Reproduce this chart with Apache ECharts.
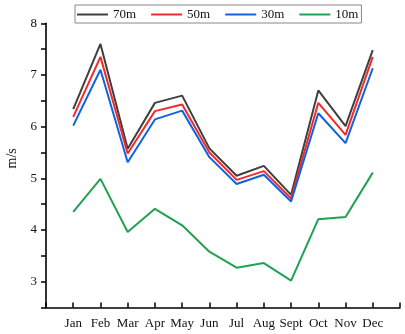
<!DOCTYPE html>
<html>
<head>
<meta charset="utf-8">
<script src="https://cdn.jsdelivr.net/npm/echarts@6/dist/echarts.min.js"></script>
<style>html,body{margin:0;padding:0;background:#fff}#c{width:405px;height:334px}</style>
</head>
<body>
<div id="c"></div>
<script>
const months = ['Jan','Feb','Mar','Apr','May','Jun','Jul','Aug','Sept','Oct','Nov','Dec'];
const seriesNames = ['70m','50m','30m','10m'];
const h70 = [6.34,7.60,5.57,6.46,6.60,5.58,5.05,5.24,4.68,6.70,6.01,7.48];
const h50 = [6.19,7.35,5.48,6.30,6.43,5.50,4.97,5.14,4.61,6.46,5.84,7.35];
const h30 = [6.02,7.10,5.31,6.14,6.31,5.41,4.89,5.07,4.55,6.26,5.68,7.13];
const h10 = [4.35,4.99,3.96,4.41,4.09,3.58,3.27,3.36,3.02,4.21,4.25,5.11];
const yTicks = [3,4,5,6,7,8];
const colors = ['#3f3f3f','#f22a2a','#1062e0','#1fa253'];
const font = 'Liberation Serif';

const toPts = arr => arr.map((v,i)=>[i+1,v]);
const allData = [h70,h50,h30,h10];

const chart = echarts.init(document.getElementById('c'));
chart.setOption({
  animation:false,
  backgroundColor:'#fff',
  textStyle:{fontFamily:font},
  legend:{
    left:75, top:5,
    padding:[2,3,1,2],
    icon:'rect',
    itemWidth:31, itemHeight:2, itemGap:15,
    borderColor:'#888', borderWidth:1,
    textStyle:{fontFamily:font,fontSize:13,color:'#111',lineHeight:15},
    data:seriesNames
  },
  grid:{left:46,right:5,top:23.3,bottom:26.5,containLabel:false,outerBoundsMode:'none'},
  xAxis:{
    type:'value', min:0, max:13, interval:1,
    axisLine:{lineStyle:{color:'#000',width:1.6}},
    axisTick:{inside:true,length:5,lineStyle:{color:'#000',width:1.5}},
    splitLine:{show:false},
    axisLabel:{
      color:'#111', fontFamily:font, fontSize:13, margin:10,
      showMinLabel:true, showMaxLabel:true,
      formatter:v=>(v>=1&&v<=12)?months[v-1]:''
    }
  },
  yAxis:{
    type:'value', min:2.5, max:8, interval:0.5,
    name:'m/s', nameLocation:'middle', nameGap:27, nameRotate:90,
    nameTextStyle:{fontFamily:font,fontSize:14,color:'#111',padding:[0,0,0,14]},
    axisLine:{show:true,lineStyle:{color:'#000',width:1.6}},
    axisTick:{show:true,inside:false,length:5,lineStyle:{color:'#000',width:1.5}},
    splitLine:{show:false},
    axisLabel:{
      color:'#111', fontFamily:font, fontSize:13, margin:9,
      formatter:v=>yTicks.indexOf(v)>=0?String(v):''
    }
  },
  series:seriesNames.map((n,k)=>({
    name:n, type:'line', data:toPts(allData[k]),
    symbol:'none', showSymbol:false,
    lineStyle:{color:colors[k],width:2},
    itemStyle:{color:colors[k]}
  }))
});
</script>
</body>
</html>
